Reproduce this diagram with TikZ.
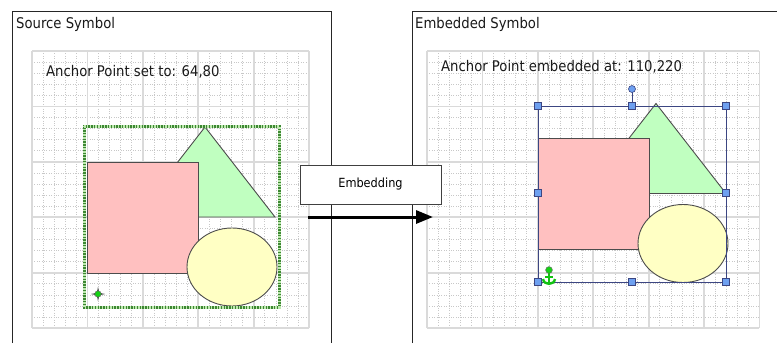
\documentclass[tikz,border=0pt]{standalone}
\usepackage{fontspec}
\setmainfont{DejaVu Sans Condensed}
\usetikzlibrary{arrows.meta,positioning}

\definecolor{sqpink}{RGB}{255,192,192}
\definecolor{trigreen}{RGB}{192,255,192}
\definecolor{ellyellow}{RGB}{255,255,196}
\definecolor{gridmajor}{RGB}{218,218,218}
\definecolor{gridminor}{RGB}{200,200,200}
\definecolor{handleblue}{RGB}{110,160,240}
\definecolor{selblue}{RGB}{60,70,130}
\definecolor{hatchdark}{RGB}{60,135,50}
\definecolor{hatchlight}{RGB}{190,232,175}
\definecolor{anchorgreen}{RGB}{20,210,20}

\tikzset{
  frameline/.style={draw=black!85, line width=1pt},
  minorgrid/.style={draw=gridminor, line width=0.5pt, dash pattern=on 0.8pt off 1.6pt},
  majorgrid/.style={draw=gridmajor, line width=1.8pt},
  paneltitle/.style={anchor=base west, inner sep=0pt, text=black!90,
    font=\fontsize{14.7}{17}\selectfont},
  shapeline/.style={draw=black!70, line width=0.9pt},
  selhandle/.style={draw=selblue, fill=handleblue, line width=0.6pt,
    minimum size=7pt, inner sep=0pt},
  stepbox/.style={draw=black!75, fill=white, line width=0.9pt,
    minimum width=141pt, minimum height=39pt, inner sep=0pt,
    font=\fontsize{12.6}{15}\selectfont},
  flow/.style={line width=3pt, -{Triangle[length=17pt,width=13pt]}},
}

% background grid: origin, number of columns
\newcommand{\symgrid}[2]{%
  \begin{scope}[shift={#1}]
    \pgfmathsetmacro\gridw{#2*55.4}
    \pgfmathtruncatemacro\gridn{#2*5}
    \foreach \k in {0,...,25}
      \draw[minorgrid] (0,\k*11.08) -- (\gridw,\k*11.08);
    \foreach \k in {0,...,\gridn}
      \draw[minorgrid] (\k*11.08,0) -- (\k*11.08,277);
    \foreach \k in {0,...,5}
      \draw[majorgrid] (0,\k*55.4) -- (\gridw,\k*55.4);
    \foreach \k in {0,...,#2}
      \draw[majorgrid] (\k*55.4,0) -- (\k*55.4,277);
  \end{scope}}

% the three shapes of the symbol
\newcommand{\symshapes}{%
  \draw[shapeline, fill=trigreen] (205,127) -- (275,217) -- (135,217) -- cycle;
  \draw[shapeline, fill=sqpink] (87,162) rectangle (198,273);
  \draw[shapeline, fill=ellyellow] (232,267) ellipse [x radius=45, y radius=39];}

\begin{document}
\begin{tikzpicture}[x=1pt,y=-1pt]
\useasboundingbox (0,0) rectangle (777,343);

% panel frames
\draw[frameline] (12,343) -- (12,11) -- (331,11) -- (331,343);
\draw[frameline] (412,343) -- (412,11) -- (777,11);

% grids
\symgrid{(32,51)}{5}
\symgrid{(427,51)}{6}

% titles
\node[paneltitle] (srctitle) at (16,28.5) {Source Symbol};
\node[paneltitle] (embtitle) at (415,28.5) {Embedded Symbol};
\node[paneltitle] (srcanchor) at (46,76.5) {Anchor Point set to: 64,80};
\node[paneltitle] (embanchor) at (441,71.5) {Anchor Point embedded at: 110,220};

% source symbol with hatched selection
\symshapes
\draw[hatchdark, line width=3pt] (84,126) rectangle (279,307);
\draw[hatchlight, line width=3pt, dash pattern=on 1.4pt off 1.4pt] (84,126) rectangle (279,307);

% anchor point
\fill[black] (98,287) -- (99,293) -- (105,294) -- (99,295) -- (98,301)
  -- (97,295) -- (91,294) -- (97,293) -- cycle;
\draw[fill=anchorgreen, draw=black!60, line width=0.5pt] (98,294) circle (3.2);

% embedded symbol
\begin{scope}[shift={(451,-23.5)}]
  \symshapes
\end{scope}
\draw[selblue, line width=0.7pt] (538,106) rectangle (726,282);
\draw[selblue, line width=0.8pt] (632,89) -- (632,106);
\draw[fill=handleblue, draw=selblue, line width=0.6pt] (632,89) circle (3.5);
\foreach \hx/\hy [count=\i] in {538/106, 632/106, 726/106, 538/193,
    726/193, 538/282, 632/282, 726/282}
  \node[selhandle] (handle\i) at (\hx,\hy) {};

% anchor
\begin{scope}[line width=2.4pt, anchorgreen!92!black]
  \draw (549,273) -- (549,283);
  \draw (545,277) -- (553,277);
  \draw (543,279) .. controls (544,285.5) and (554,285.5) .. (555,279);
\end{scope}
\draw[fill=anchorgreen, draw=black!60, line width=0.5pt] (549,270) circle (3.4);

% embedding step
\node[stepbox] (embedbox) at (370.5,184.5) {Embedding};
\coordinate (arrstart) at (308,217);
\coordinate (arrend) at (433,217);
\draw[flow] (arrstart) -- (arrend);
\end{tikzpicture}
\end{document}
